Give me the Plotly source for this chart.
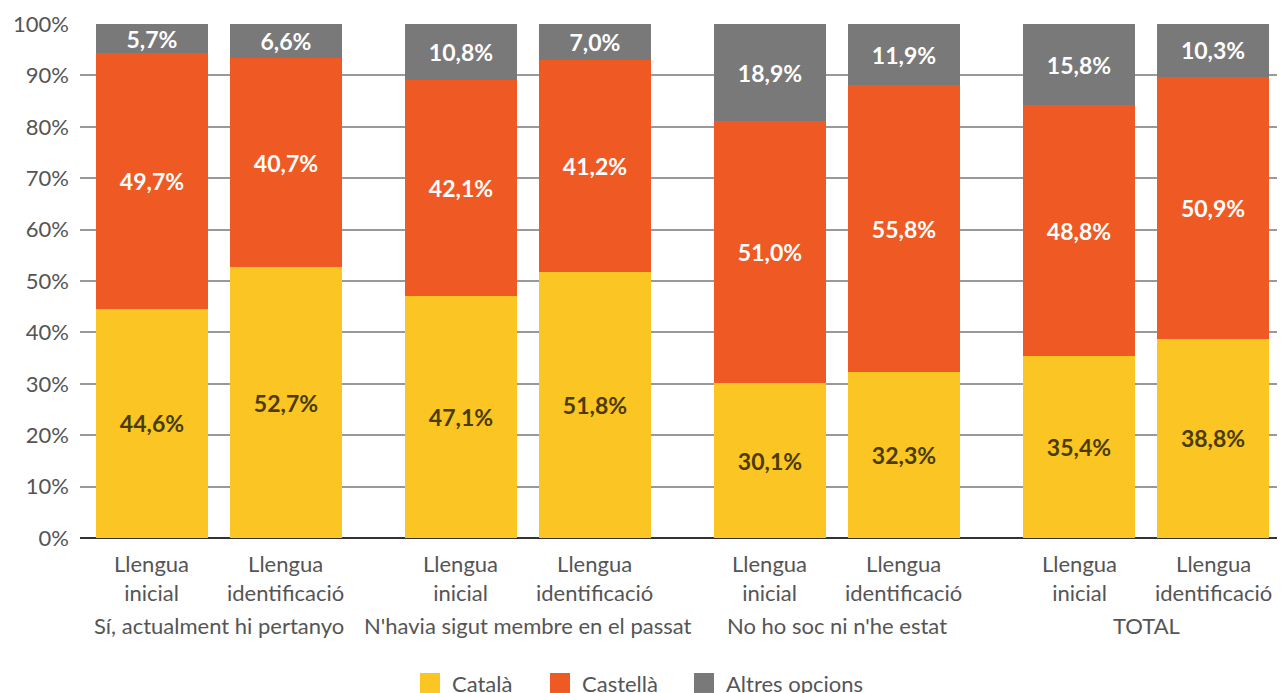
import plotly.graph_objects as go

groups = ["Sí, actualment hi pertanyo", "N'havia sigut membre en el passat",
          "No ho soc ni n'he estat", "TOTAL"]
bar_labels = ["Llengua<br>inicial", "Llengua<br>identificació"]

catala = [44.6, 52.7, 47.1, 51.8, 30.1, 32.3, 35.4, 38.8]
castella = [49.7, 40.7, 42.1, 41.2, 51.0, 55.8, 48.8, 50.9]
altres = [5.7, 6.6, 10.8, 7.0, 18.9, 11.9, 15.8, 10.3]

series = [("Català", catala, "#FBC623", "#4A3B00"),
          ("Castellà", castella, "#EF5A24", "#FFFFFF"),
          ("Altres opcions", altres, "#797979", "#FFFFFF")]

GROUP_STEP = 2.306
xs = []
ticktext = []
for g in range(len(groups)):
    for i in range(2):
        xs.append(g * GROUP_STEP + i)
        ticktext.append(bar_labels[i])

FONT = "Lato"
TXT = "#555555"
PLOT_W = 1213.0

fig = go.Figure()
for name, vals, color, tcolor in series:
    fig.add_trace(go.Bar(
        x=xs, y=vals, name=name, marker=dict(color=color, line=dict(width=0)),
        width=0.836,
        text=[f"{v:.1f}%".replace(".", ",") for v in vals],
        textposition="inside", insidetextanchor="middle", textangle=0,
        constraintext="none",
        insidetextfont=dict(family=FONT, size=23, color=tcolor, weight="bold"),
        hoverinfo="skip", showlegend=False,
    ))

# category tick labels
for x, txt in zip(xs, ticktext):
    fig.add_annotation(x=x, y=-0.0775, xref="x", yref="paper", text=txt,
                       showarrow=False, yanchor="middle",
                       font=dict(family=FONT, size=22, color=TXT))

for g, label in enumerate(groups):
    fig.add_annotation(x=g * GROUP_STEP + 0.5, y=-0.171, xref="x", yref="paper",
                       text=label, showarrow=False, yanchor="middle",
                       font=dict(family=FONT, size=22, color=TXT))

# legend (swatches + labels)
leg_x = [340 / PLOT_W, 470 / PLOT_W, 614 / PLOT_W]
for (name, vals, color, tcolor), lx in zip(series, leg_x):
    fig.add_shape(type="rect", xref="paper", yref="paper",
                  x0=lx, x1=lx + 20 / PLOT_W, y0=-0.2626, y1=-0.3015,
                  fillcolor=color, line=dict(width=0), layer="above")
    fig.add_annotation(x=lx + 30 / PLOT_W, y=-0.283, xref="paper", yref="paper",
                       text=name, showarrow=False, xanchor="left", yanchor="middle",
                       font=dict(family=FONT, size=22, color=TXT))

fig.update_layout(
    barmode="stack",
    width=1285, height=693,
    margin=dict(l=72, r=0, t=16, b=163, autoexpand=False),
    plot_bgcolor="white", paper_bgcolor="white",
    font=dict(family=FONT, color=TXT, size=22),
    showlegend=False,
    xaxis=dict(range=[-0.537, 8.515], showticklabels=False,
               showgrid=False, showline=False, zeroline=False, ticks="",
               automargin=False),
    yaxis=dict(range=[0, 100], tickvals=list(range(0, 101, 10)),
               ticktext=[f"{v}%" for v in range(0, 101, 10)],
               showgrid=True, gridcolor="#999999", gridwidth=1.5,
               zeroline=True, zerolinecolor="#333333", zerolinewidth=1.5,
               showline=False, ticks="", ticklabelstandoff=10, automargin=False,
               tickfont=dict(family=FONT, size=22, color=TXT)),
)

fig.write_html("out.html")
